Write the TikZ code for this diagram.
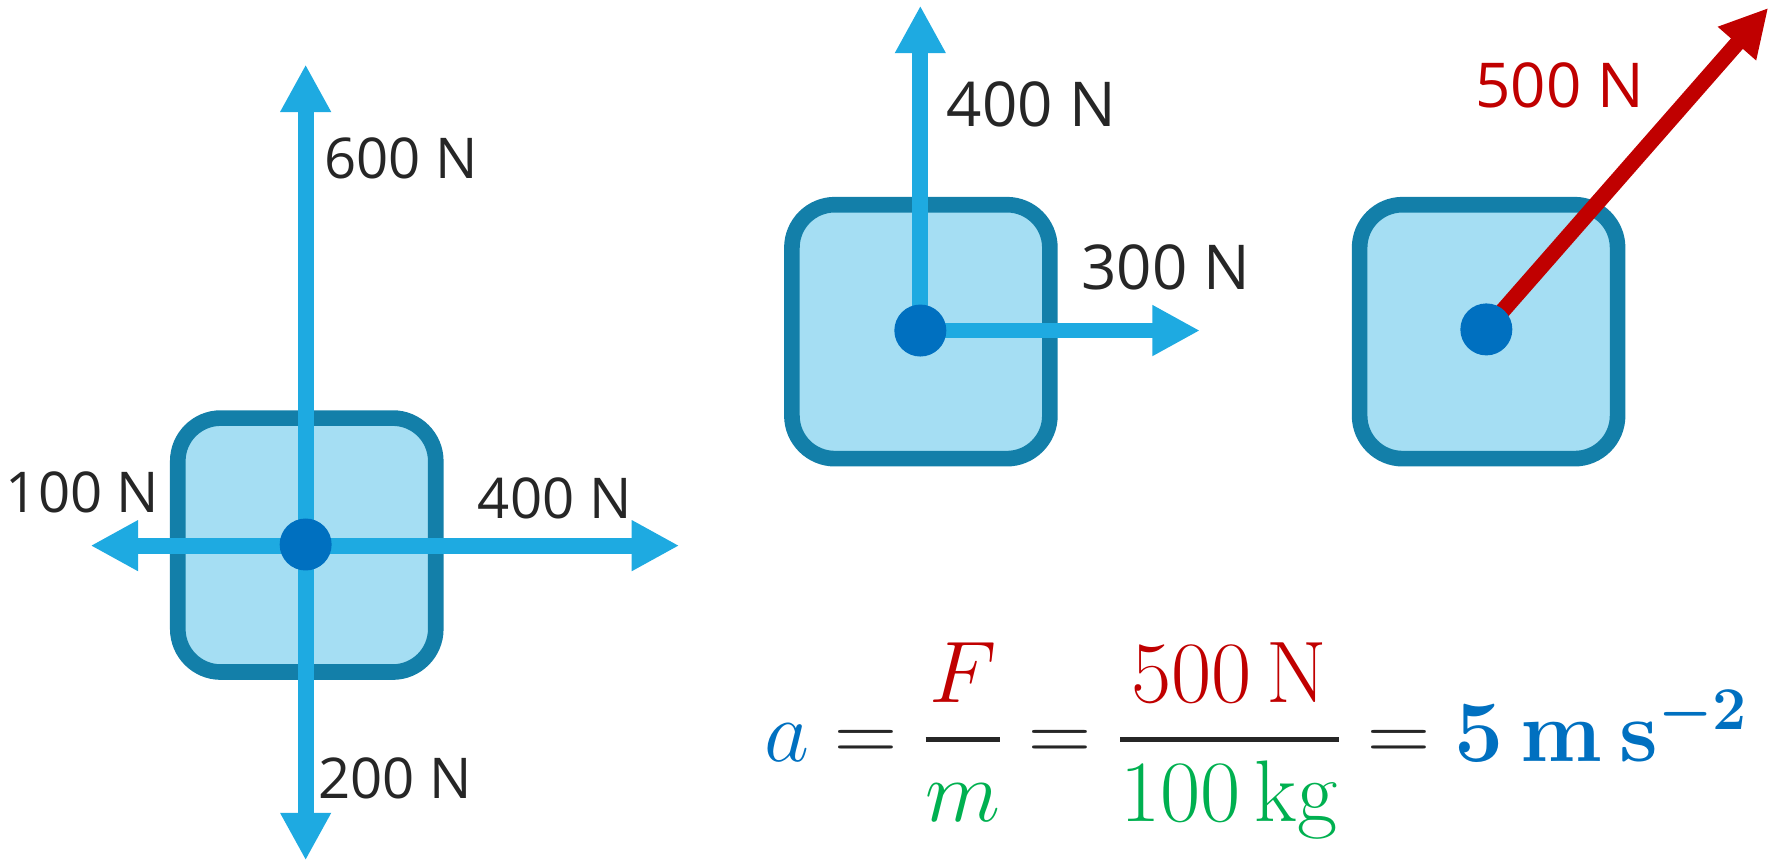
\documentclass[tikz,border=0pt]{standalone}
\usepackage{amsmath, amssymb}
\usepackage[no-math]{fontspec}
\newfontfamily\labelfont{Open Sans}
\usetikzlibrary{arrows.meta}
\definecolor{boxfill}{HTML}{A5DEF3}
\definecolor{boxline}{HTML}{137FA9}
\definecolor{forceblue}{HTML}{1EAAE1}
\definecolor{dotblue}{HTML}{0070C0}
\definecolor{forcered}{HTML}{C00000}
\definecolor{massgreen}{HTML}{00B050}
\definecolor{textgray}{HTML}{262626}
\newcommand{\thickfrac}[2]{\genfrac{}{}{1.6pt}{0}{#1}{#2}}

\begin{document}
\begin{tikzpicture}[x=0.01132cm, y=-0.01132cm, >={Triangle[length=4.75mm, width=4.75mm]},
    body/.style={draw=boxline, fill=boxfill, line width=4.45pt, rounded corners=4.3mm, minimum width=2.58cm, minimum height=2.54cm, inner sep=0pt},
    force/.style={draw=forceblue, line width=4.5pt},
    dot/.style={circle, fill=dotblue, inner sep=0pt, minimum size=5.2mm},
    lbl/.style={text=textgray, font=\labelfont\fontsize{16}{19}\selectfont, inner sep=0pt},
    biglbl/.style={lbl, font=\labelfont\fontsize{17.6}{21}\selectfont}]
  \useasboundingbox (0,0) rectangle (1568,760);

  % left: four forces
  \node[body] (b1) at (271,481.5) {};
  \coordinate (c1) at (270,481);
  \coordinate (up1) at (270,57);
  \coordinate (dn1) at (270,760);
  \coordinate (lt1) at (80,482);
  \coordinate (rt1) at (600,482);
  \draw[force, <->] (dn1) -- (up1);
  \draw[force, <->] (lt1) -- (rt1);
  \node[dot] (d1) at (c1) {};
  \node[lbl] (l600) at (354,140) {600 N};
  \node[lbl] (l100) at (73,435) {100 N};
  \node[lbl] (l400a) at (490,440) {400 N};
  \node[lbl] (l200) at (349,688) {200 N};

  % middle: two forces
  \node[body] (b2) at (813.5,293) {};
  \coordinate (c2) at (813,292);
  \coordinate (up2) at (813,5);
  \coordinate (rt2) at (1060,292);
  \draw[force, ->] (c2) -- (up2);
  \draw[force, ->] (c2) -- (rt2);
  \node[dot] (d2) at (c2) {};
  \node[biglbl] (l400b) at (911,92) {400 N};
  \node[biglbl] (l300) at (1030,236) {300 N};

  % right: resultant
  \node[body] (b3) at (1315,293) {};
  \coordinate (c3) at (1313,291);
  \coordinate (tip3) at (1562,7);
  \draw[force, draw=forcered, ->] (c3) -- (tip3);
  \node[dot] (d3) at (c3) {};
  \node[biglbl, text=forcered] (l500) at (1378,75) {500 N};

  % equation
  \node[text=textgray, inner sep=0pt, font=\fontsize{25.5}{30}\selectfont] (eq) at (1110,654)
    {$\color{dotblue}a \color{textgray} = \thickfrac{\color{forcered}F}{\color{massgreen}m}
      = \thickfrac{\color{forcered}500\,\mathrm{N}}{\color{massgreen}100\,\mathrm{kg}}
      = \color{dotblue}\boldsymbol{5\,\mathrm{m}\,\mathrm{s}^{-2}}$};
\end{tikzpicture}
\end{document}
